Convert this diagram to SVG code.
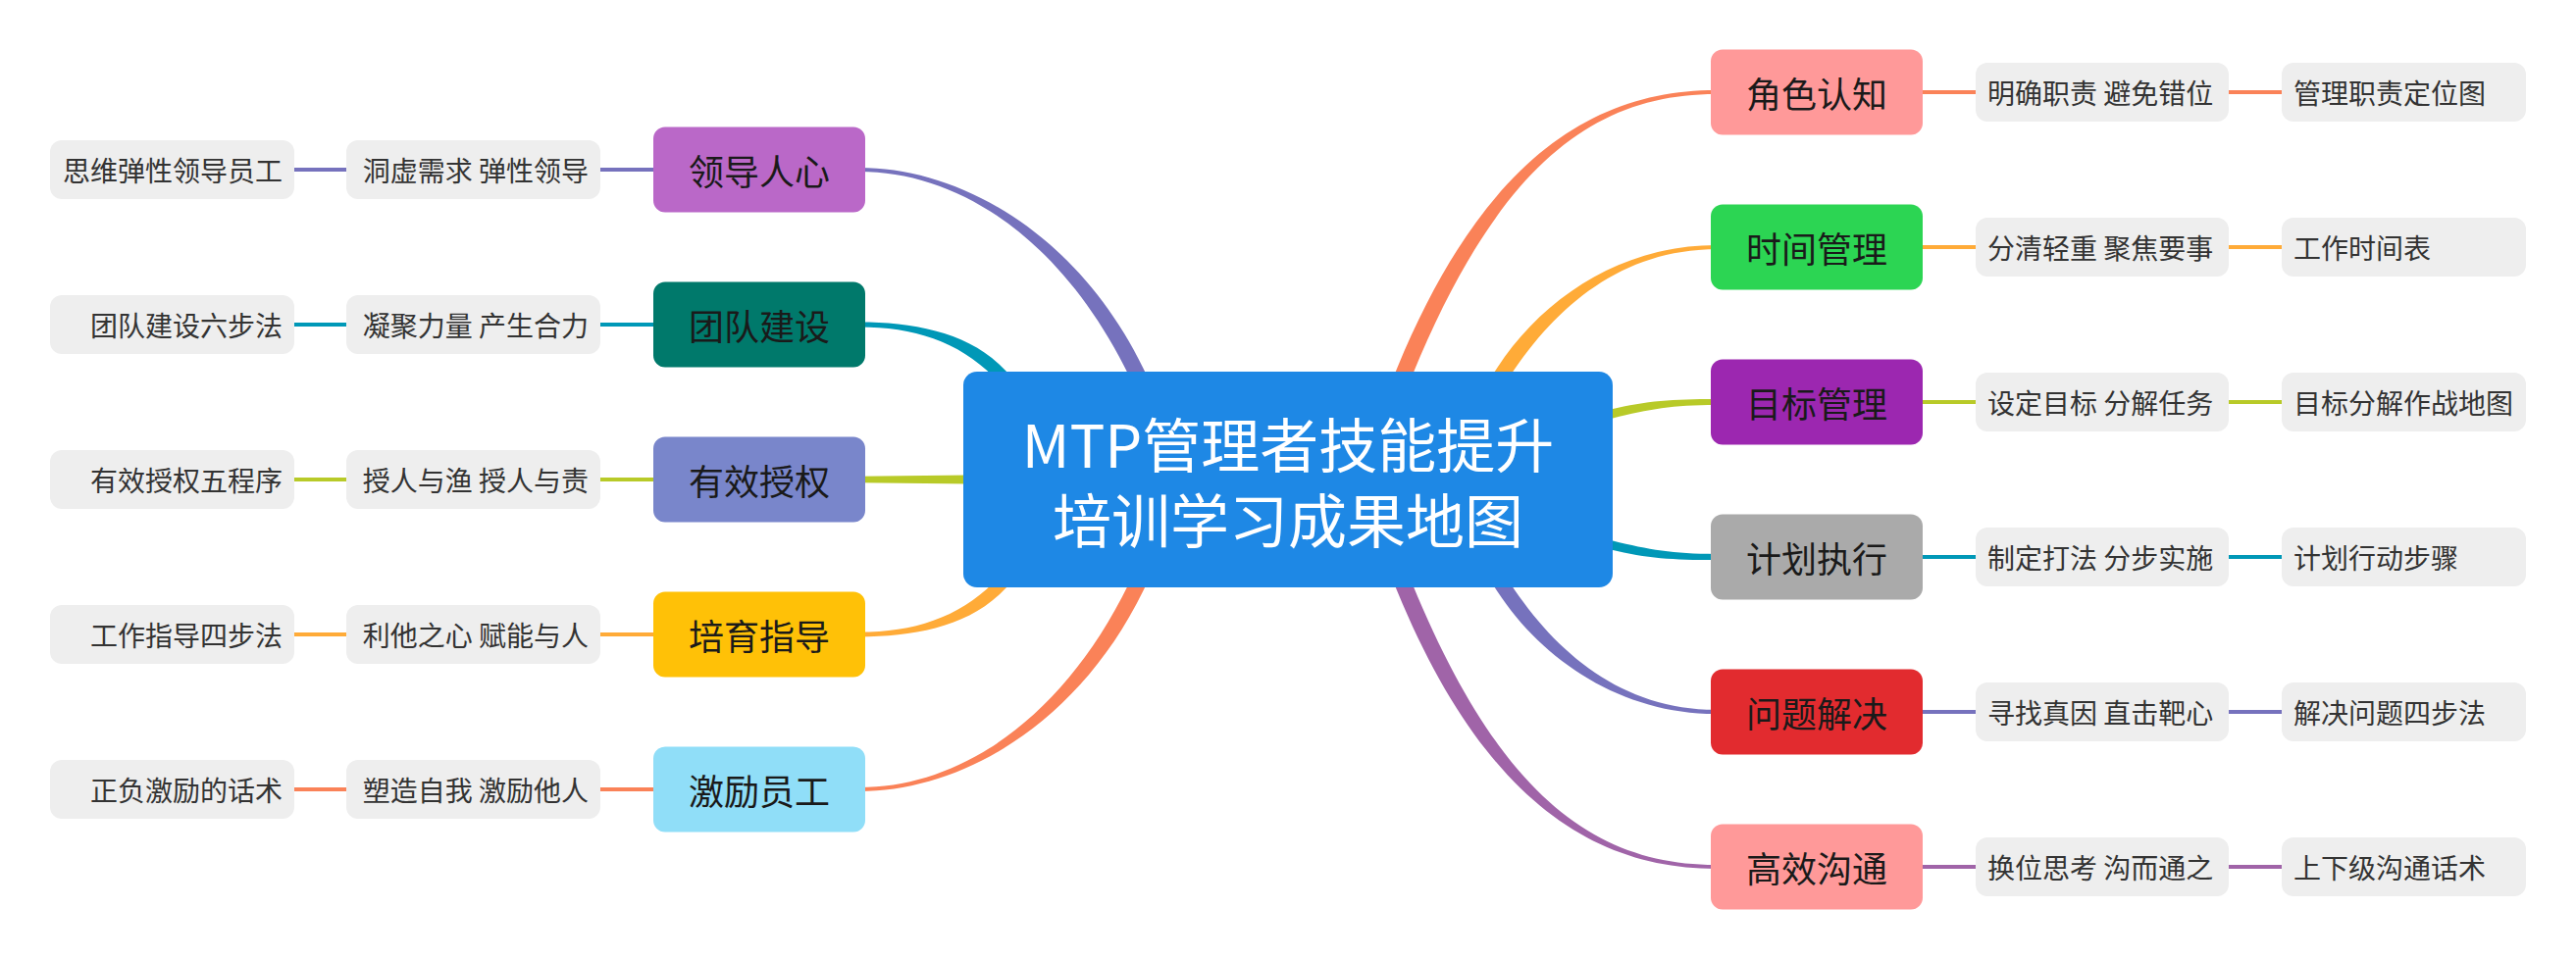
<svg xmlns="http://www.w3.org/2000/svg" width="2626" height="978" viewBox="0 0 2626 978">
<style>
  text { font-family: "Noto Sans CJK SC", "Noto Sans", sans-serif; dominant-baseline: central; }
  .nt { font-size: 36px; fill: #1a1a1a; text-anchor: middle; }
  .lt { font-size: 28px; fill: #333333; }
  .le { text-anchor: end; }
  .ls { text-anchor: start; }
  .leaf rect { fill: #EEEEEE; }
  .ln { stroke-width: 4; fill: none; }
  .root text { font-size: 60px; fill: #ffffff; text-anchor: middle; }
</style>

<g id="connectors">
  <!-- left main branches (tapered) -->
  <path fill="#7672BD" d="M1183,411.3 L1165.4,375.4 C1099.4,240.4 981,171 876,171 L876,175 C981,175 1084.6,247.6 1150.6,382.6 L1168.2,418.5 Z"/>
  <path fill="#0098B7" d="M1049.9,402.7 L1021.6,374.4 C986.2,339 931,328.6 876,328.6 L876,333.4 C931,333.4 977,348.2 1012.4,383.6 L1040.7,411.9 Z"/>
  <path fill="#B8CA28" d="M1010,484.3 L876,485.7 L876,492.3 L1010,493.7 Z"/>
  <path fill="#FFAB38" d="M1049.9,575.3 L1021.6,603.6 C986.2,639 931,649.4 876,649.4 L876,644.6 C931,644.6 977,629.8 1012.4,594.4 L1040.7,566.1 Z"/>
  <path fill="#FA8258" d="M1183,566.7 L1165.4,602.6 C1099.4,737.6 981,807 876,807 L876,803 C981,803 1084.6,730.4 1150.6,595.4 L1168.2,559.5 Z"/>
  <!-- right main branches (tapered) -->
  <path fill="#FA8258" d="M1424.7,419.2 L1439.9,382.2 C1527.3,169.5 1624,96 1749,96 L1749,92 C1624,92 1511.5,163.1 1424.1,375.8 L1408.9,412.8 Z"/>
  <path fill="#FFAB38" d="M1517.6,416.8 L1539.5,383.3 C1586,312.2 1654,254.2 1749,254.2 L1749,249.9 C1654,249.9 1573,303.6 1526.5,374.7 L1504.6,408.2 Z"/>
  <path fill="#B8CA28" d="M1605.3,436 L1644.1,426.4 C1681.1,417.4 1705,413 1749,413 L1749,407 C1705,407 1678.9,408.6 1641.9,417.6 L1603.1,427.2 Z"/>
  <path fill="#0098B7" d="M1605.3,542 L1644.1,551.6 C1681.1,560.6 1705,565 1749,565 L1749,571 C1705,571 1678.9,569.4 1641.9,560.4 L1603.1,550.8 Z"/>
  <path fill="#7672BD" d="M1517.6,561.2 L1539.5,594.7 C1586,665.8 1654,723.8 1749,723.8 L1749,728.1 C1654,728.1 1573,674.4 1526.5,603.3 L1504.6,569.8 Z"/>
  <path fill="#A064A8" d="M1424.7,558.8 L1439.9,595.8 C1527.3,808.5 1624,882 1749,882 L1749,886 C1624,886 1511.5,814.9 1424.1,602.2 L1408.9,565.2 Z"/>
  <!-- left leaf links -->
  <line class="ln" stroke="#7672BD" x1="612" y1="173" x2="666" y2="173"/>
  <line class="ln" stroke="#7672BD" x1="300" y1="173" x2="353" y2="173"/>
  <line class="ln" stroke="#0098B7" x1="612" y1="331" x2="666" y2="331"/>
  <line class="ln" stroke="#0098B7" x1="300" y1="331" x2="353" y2="331"/>
  <line class="ln" stroke="#B8CA28" x1="612" y1="489" x2="666" y2="489"/>
  <line class="ln" stroke="#B8CA28" x1="300" y1="489" x2="353" y2="489"/>
  <line class="ln" stroke="#FFAB38" x1="612" y1="647" x2="666" y2="647"/>
  <line class="ln" stroke="#FFAB38" x1="300" y1="647" x2="353" y2="647"/>
  <line class="ln" stroke="#FA8258" x1="612" y1="805" x2="666" y2="805"/>
  <line class="ln" stroke="#FA8258" x1="300" y1="805" x2="353" y2="805"/>
  <!-- right leaf links -->
  <line class="ln" stroke="#FA8258" x1="1960" y1="94" x2="2014" y2="94"/>
  <line class="ln" stroke="#FA8258" x1="2272" y1="94" x2="2326" y2="94"/>
  <line class="ln" stroke="#FFAB38" x1="1960" y1="252" x2="2014" y2="252"/>
  <line class="ln" stroke="#FFAB38" x1="2272" y1="252" x2="2326" y2="252"/>
  <line class="ln" stroke="#B8CA28" x1="1960" y1="410" x2="2014" y2="410"/>
  <line class="ln" stroke="#B8CA28" x1="2272" y1="410" x2="2326" y2="410"/>
  <line class="ln" stroke="#0098B7" x1="1960" y1="568" x2="2014" y2="568"/>
  <line class="ln" stroke="#0098B7" x1="2272" y1="568" x2="2326" y2="568"/>
  <line class="ln" stroke="#7672BD" x1="1960" y1="726" x2="2014" y2="726"/>
  <line class="ln" stroke="#7672BD" x1="2272" y1="726" x2="2326" y2="726"/>
  <line class="ln" stroke="#A064A8" x1="1960" y1="884" x2="2014" y2="884"/>
  <line class="ln" stroke="#A064A8" x1="2272" y1="884" x2="2326" y2="884"/>
</g>

<g id="root" class="root">
  <rect x="982" y="379" width="662" height="220" rx="14" fill="#1E88E5"/>
  <text x="1313" y="450">MTP管理者技能提升</text>
  <text x="1313" y="527">培训学习成果地图</text>
</g>

<!-- left nodes -->
<g id="n-lingdao"><rect x="666" y="129.5" width="216" height="87" rx="12" fill="#BA68C8"/><text class="nt" x="774" y="173">领导人心</text></g>
<g id="n-tuandui"><rect x="666" y="287.5" width="216" height="87" rx="12" fill="#00796B"/><text class="nt" x="774" y="331">团队建设</text></g>
<g id="n-shouquan"><rect x="666" y="445.5" width="216" height="87" rx="12" fill="#7986CB"/><text class="nt" x="774" y="489">有效授权</text></g>
<g id="n-peiyu"><rect x="666" y="603.5" width="216" height="87" rx="12" fill="#FFC107"/><text class="nt" x="774" y="647">培育指导</text></g>
<g id="n-jili"><rect x="666" y="761.5" width="216" height="87" rx="12" fill="#90DEF8"/><text class="nt" x="774" y="805">激励员工</text></g>

<!-- left leaves -->
<g id="l-lingdao-1" class="leaf"><rect x="353" y="143" width="259" height="60" rx="12"/><text class="lt le" x="600" y="173">洞虚需求 弹性领导</text></g>
<g id="l-lingdao-2" class="leaf"><rect x="51" y="143" width="249" height="60" rx="12"/><text class="lt le" x="288" y="173">思维弹性领导员工</text></g>
<g id="l-tuandui-1" class="leaf"><rect x="353" y="301" width="259" height="60" rx="12"/><text class="lt le" x="600" y="331">凝聚力量 产生合力</text></g>
<g id="l-tuandui-2" class="leaf"><rect x="51" y="301" width="249" height="60" rx="12"/><text class="lt le" x="288" y="331">团队建设六步法</text></g>
<g id="l-shouquan-1" class="leaf"><rect x="353" y="459" width="259" height="60" rx="12"/><text class="lt le" x="600" y="489">授人与渔 授人与责</text></g>
<g id="l-shouquan-2" class="leaf"><rect x="51" y="459" width="249" height="60" rx="12"/><text class="lt le" x="288" y="489">有效授权五程序</text></g>
<g id="l-peiyu-1" class="leaf"><rect x="353" y="617" width="259" height="60" rx="12"/><text class="lt le" x="600" y="647">利他之心 赋能与人</text></g>
<g id="l-peiyu-2" class="leaf"><rect x="51" y="617" width="249" height="60" rx="12"/><text class="lt le" x="288" y="647">工作指导四步法</text></g>
<g id="l-jili-1" class="leaf"><rect x="353" y="775" width="259" height="60" rx="12"/><text class="lt le" x="600" y="805">塑造自我 激励他人</text></g>
<g id="l-jili-2" class="leaf"><rect x="51" y="775" width="249" height="60" rx="12"/><text class="lt le" x="288" y="805">正负激励的话术</text></g>

<!-- right nodes -->
<g id="n-juese"><rect x="1744" y="50.5" width="216" height="87" rx="12" fill="#FF9999"/><text class="nt" x="1852" y="94">角色认知</text></g>
<g id="n-shijian"><rect x="1744" y="208.5" width="216" height="87" rx="12" fill="#2CD553"/><text class="nt" x="1852" y="252">时间管理</text></g>
<g id="n-mubiao"><rect x="1744" y="366.5" width="216" height="87" rx="12" fill="#9C27B0"/><text class="nt" x="1852" y="410">目标管理</text></g>
<g id="n-jihua"><rect x="1744" y="524.5" width="216" height="87" rx="12" fill="#AAAAAA"/><text class="nt" x="1852" y="568">计划执行</text></g>
<g id="n-wenti"><rect x="1744" y="682.5" width="216" height="87" rx="12" fill="#E22B2F"/><text class="nt" x="1852" y="726">问题解决</text></g>
<g id="n-goutong"><rect x="1744" y="840.5" width="216" height="87" rx="12" fill="#FF9999"/><text class="nt" x="1852" y="884">高效沟通</text></g>

<!-- right leaves -->
<g id="l-juese-1" class="leaf"><rect x="2014" y="64" width="258" height="60" rx="12"/><text class="lt ls" x="2026" y="94">明确职责 避免错位</text></g>
<g id="l-juese-2" class="leaf"><rect x="2326" y="64" width="249" height="60" rx="12"/><text class="lt ls" x="2338" y="94">管理职责定位图</text></g>
<g id="l-shijian-1" class="leaf"><rect x="2014" y="222" width="258" height="60" rx="12"/><text class="lt ls" x="2026" y="252">分清轻重 聚焦要事</text></g>
<g id="l-shijian-2" class="leaf"><rect x="2326" y="222" width="249" height="60" rx="12"/><text class="lt ls" x="2338" y="252">工作时间表</text></g>
<g id="l-mubiao-1" class="leaf"><rect x="2014" y="380" width="258" height="60" rx="12"/><text class="lt ls" x="2026" y="410">设定目标 分解任务</text></g>
<g id="l-mubiao-2" class="leaf"><rect x="2326" y="380" width="249" height="60" rx="12"/><text class="lt ls" x="2338" y="410">目标分解作战地图</text></g>
<g id="l-jihua-1" class="leaf"><rect x="2014" y="538" width="258" height="60" rx="12"/><text class="lt ls" x="2026" y="568">制定打法 分步实施</text></g>
<g id="l-jihua-2" class="leaf"><rect x="2326" y="538" width="249" height="60" rx="12"/><text class="lt ls" x="2338" y="568">计划行动步骤</text></g>
<g id="l-wenti-1" class="leaf"><rect x="2014" y="696" width="258" height="60" rx="12"/><text class="lt ls" x="2026" y="726">寻找真因 直击靶心</text></g>
<g id="l-wenti-2" class="leaf"><rect x="2326" y="696" width="249" height="60" rx="12"/><text class="lt ls" x="2338" y="726">解决问题四步法</text></g>
<g id="l-goutong-1" class="leaf"><rect x="2014" y="854" width="258" height="60" rx="12"/><text class="lt ls" x="2026" y="884">换位思考 沟而通之</text></g>
<g id="l-goutong-2" class="leaf"><rect x="2326" y="854" width="249" height="60" rx="12"/><text class="lt ls" x="2338" y="884">上下级沟通话术</text></g>
</svg>
